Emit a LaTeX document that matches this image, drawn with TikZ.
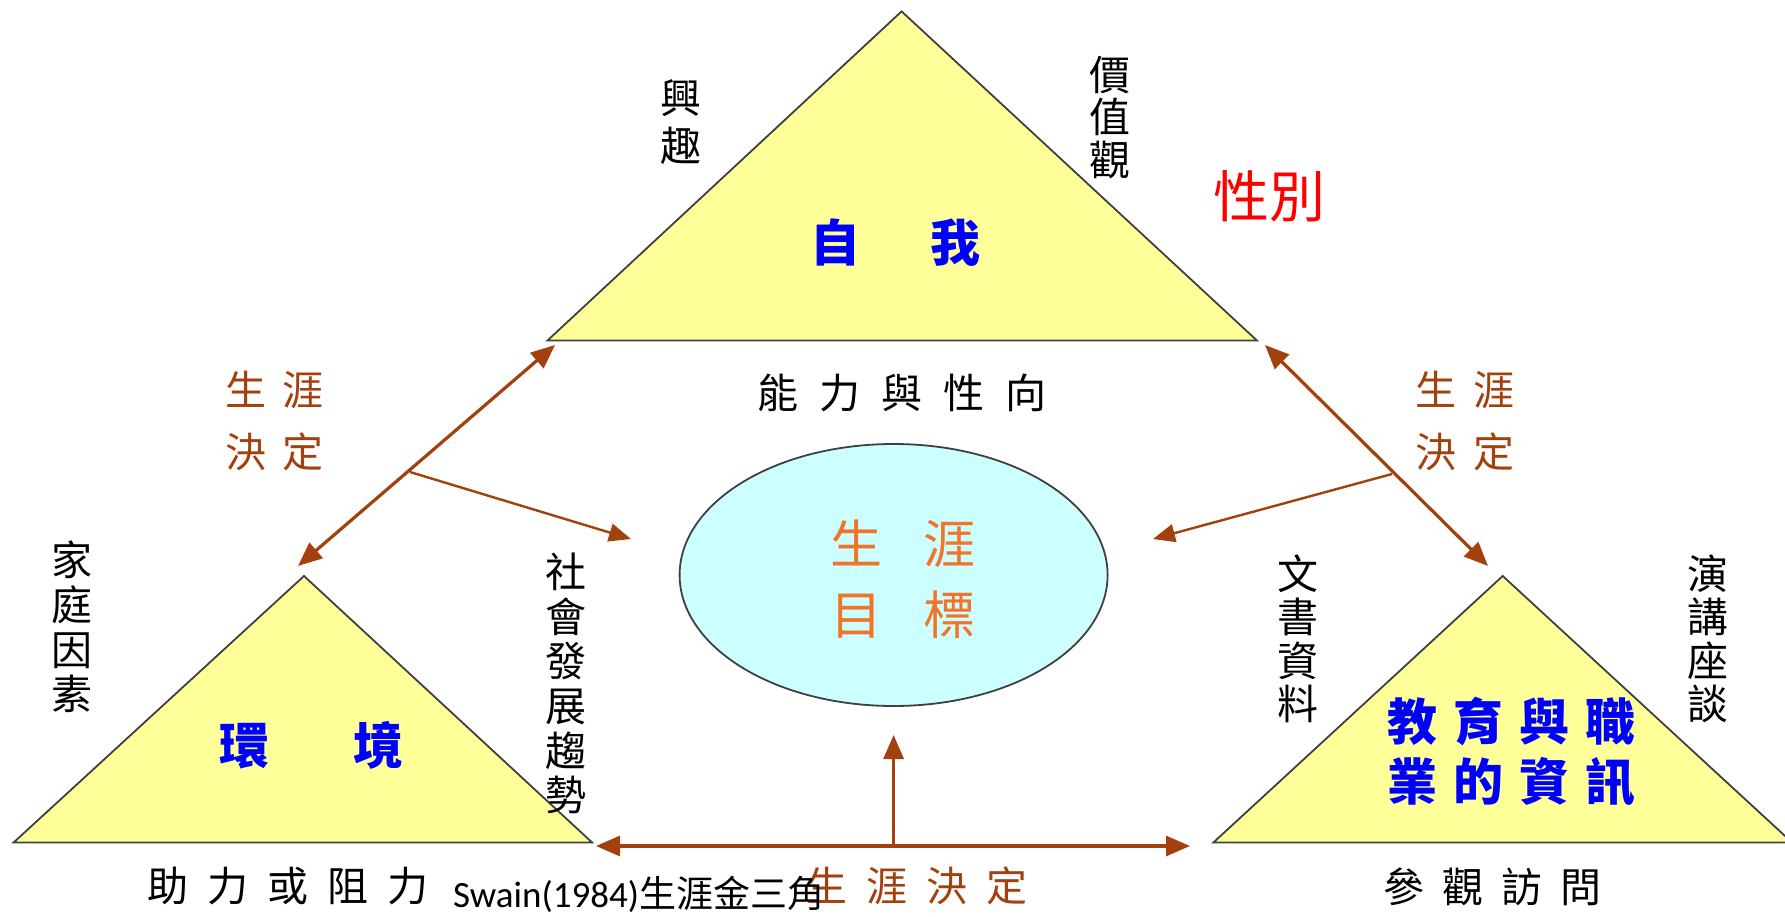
\documentclass[tikz,border=0pt]{standalone}
\usepackage{fontspec}
\setmainfont{Carlito}
\newfontfamily\cjk{Noto Sans CJK TC}
\usetikzlibrary{arrows.meta,shapes.geometric}
\definecolor{triyellow}{HTML}{FFFF99}
\definecolor{triedge}{HTML}{404040}
\definecolor{goalcyan}{HTML}{CCFFFF}
\definecolor{arrowbrown}{HTML}{A3410E}
\definecolor{goalorange}{HTML}{F0742A}
\definecolor{titleblue}{HTML}{0000FF}
\newcommand{\fs}[2]{\fontsize{#1}{#2}\selectfont}
\begin{document}
\begin{tikzpicture}[x=1pt,y=-1pt,
  tri/.style={fill=triyellow,draw=triedge,line width=1.8pt,line join=miter},
  conn/.style={draw=arrowbrown,line width=3.2pt,-{Triangle[length=24pt,width=20pt]}},
  dconn/.style={draw=arrowbrown,line width=3.2pt,{Triangle[length=24pt,width=20pt]}-{Triangle[length=24pt,width=20pt]}},
  thinconn/.style={draw=arrowbrown,line width=2.4pt,-{Triangle[length=22pt,width=18pt]}},
  lab/.style={font=\cjk\fs{41}{44.6},align=center,inner sep=0pt},
  brownlab/.style={lab,text=arrowbrown},
  bluelab/.style={font=\cjk\bfseries\fs{50}{60},text=titleblue,align=center,inner sep=0pt}]
\useasboundingbox (0,0) rectangle (1785,917);
\fill[white] (0,0) rectangle (1785,917);

% triangles
\draw[tri] (901.6,11.4) -- (1256.8,340.4) -- (547.6,340.4) -- cycle;
\draw[tri] (304,576) -- (592,842.4) -- (13.7,842.4) -- cycle;
\draw[tri] (1502.7,576) -- (1792,842.4) -- (1213.5,842.4) -- cycle;

% ellipse
\node[ellipse,draw=triedge,line width=1.8pt,fill=goalcyan,minimum width=428pt,minimum height=262pt,inner sep=0pt] (goal) at (893.6,575) {};

% connector end points
\coordinate (lA) at (298,566);
\coordinate (lB) at (555,345);
\coordinate (lS) at (410,472);
\coordinate (lT) at (631,539);
\coordinate (rA) at (1265,345);
\coordinate (rB) at (1488,566);
\coordinate (rS) at (1392,474);
\coordinate (rT) at (1153,539);
\coordinate (bL) at (596,846);
\coordinate (bR) at (1190,846);
\coordinate (bM) at (893.6,846);
\coordinate (bT) at (893.6,735);

\draw[dconn] (lA) -- (lB);
\draw[thinconn] (lS) -- (lT);
\draw[dconn] (rA) -- (rB);
\draw[thinconn] (rS) -- (rT);
\draw[dconn] (bL) -- (bR);
\draw[conn] (bM) -- (bT);

% texts: top
\node[lab,font=\cjk\fs{41}{47.8}] (xingqu) at (681,122) {興\\趣};
\node[lab,font=\cjk\fs{41}{42.7}] (jiazhi) at (1110,117.5) {價\\值\\觀};
\node[font=\cjk\fs{56}{60},text=red,inner sep=0pt] (xingbie) at (1269,196) {性別};
\node[bluelab] (ziwo) at (895,243) {自\hspace{70pt}我};
\node[lab] (nengli) at (902,393) {能\hspace{21pt}力\hspace{21pt}與\hspace{21pt}性\hspace{21pt}向};

% career decision labels
\node[brownlab,font=\cjk\fs{41}{62}] (cdL) at (274.5,421) {生\hspace{17pt}涯\\決\hspace{17pt}定};
\node[brownlab,font=\cjk\fs{41}{62}] (cdR) at (1465,421) {生\hspace{17pt}涯\\決\hspace{17pt}定};
\node[brownlab] (cdB) at (917,886) {生\hspace{19pt}涯\hspace{19pt}決\hspace{19pt}定};

% goal
\node[font=\cjk\fs{52}{70.7},text=goalorange,align=center,inner sep=0pt] (goaltext) at (903,579) {生\hspace{42pt}涯\\目\hspace{42pt}標};

% environment triangle
\node[lab] (jiating) at (71.7,627) {家\\庭\\因\\素};
\node[lab] (shehui) at (566,683.5) {社\\會\\發\\展\\趨\\勢};
\node[bluelab] (huanjing) at (311,745) {環\hspace{84pt}境};
\node[lab] (zhuli) at (288,886) {助\hspace{19pt}力\hspace{19pt}或\hspace{19pt}阻\hspace{19pt}力};
\node[anchor=base west,font=\fs{37}{40},inner sep=0pt] (swain) at (453,907) {Swain(1984){\cjk 生涯金三角}};

% information triangle
\node[lab,font=\cjk\fs{41}{43.5}] (wenshu) at (1298,638.7) {文\\書\\資\\料};
\node[lab,font=\cjk\fs{41}{43.5}] (yanjiang) at (1708,638.7) {演\\講\\座\\談};
\node[bluelab,font=\cjk\bfseries\fs{50}{60}] (jiaoyu) at (1511,752) {教\hspace{16pt}育\hspace{16pt}與\hspace{16pt}職\\業\hspace{16pt}的\hspace{16pt}資\hspace{16pt}訊};
\node[lab] (canguan) at (1492,887) {參\hspace{18pt}觀\hspace{18pt}訪\hspace{18pt}問};
\end{tikzpicture}
\end{document}
